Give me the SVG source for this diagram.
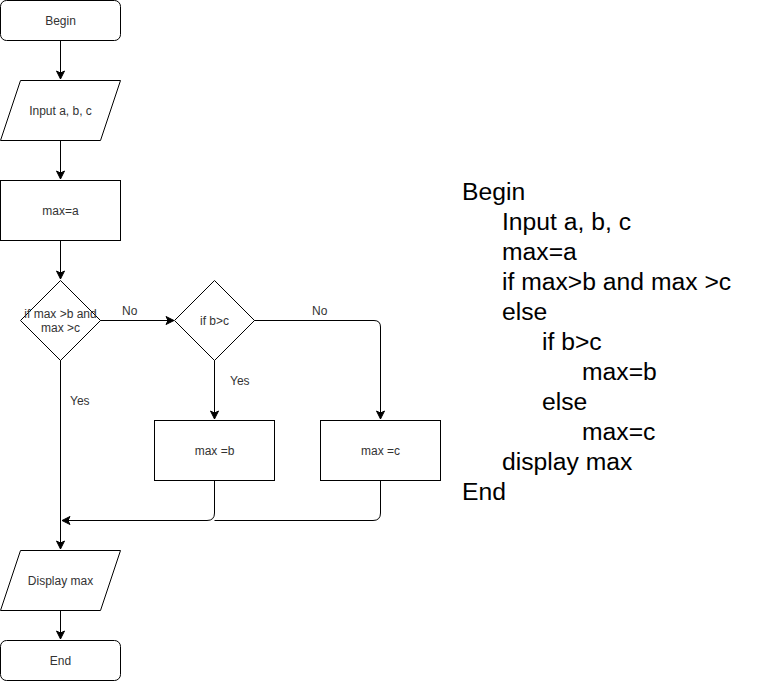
<svg xmlns="http://www.w3.org/2000/svg" width="781" height="681" viewBox="0 0 781 681">
<defs>
<marker id="arr" markerWidth="10" markerHeight="10" refX="9" refY="5" orient="auto" markerUnits="userSpaceOnUse">
<path d="M1,1 L9,5 L1,9 L3,5 Z" fill="#000" stroke="#000" stroke-width="1"/>
</marker>
</defs>
<style>
.shape{fill:#fff;stroke:#000;stroke-width:1}
.t{font-family:"Liberation Sans",Arial,sans-serif;font-size:12px;fill:#333;text-anchor:middle}
.lbl{font-family:"Liberation Sans",Arial,sans-serif;font-size:12px;fill:#333}
.c{fill:none;stroke:#000;stroke-width:1}
.code{font-family:"Liberation Sans",Arial,sans-serif;font-size:24.7px;fill:#000}
</style>
<rect width="781" height="681" fill="#fff"/>
<g id="connectors">
<path class="c" d="M60.5,40 V79" marker-end="url(#arr)"/>
<path class="c" d="M60.5,140 V179" marker-end="url(#arr)"/>
<path class="c" d="M60.5,240 V279" marker-end="url(#arr)"/>
<path class="c" d="M100,320.5 H174" marker-end="url(#arr)"/>
<path class="c" d="M254,320.5 H374 Q380.5,320.5 380.5,327 V419" marker-end="url(#arr)"/>
<path class="c" d="M214.5,360 V419" marker-end="url(#arr)"/>
<path class="c" d="M60.5,360 V549" marker-end="url(#arr)"/>
<path class="c" d="M214.5,480 V513 Q214.5,520.5 207,520.5 H62" marker-end="url(#arr)"/>
<path class="c" d="M380.5,480 V513 Q380.5,520.5 373,520.5 H214.5"/>
<path class="c" d="M60.5,610 V639" marker-end="url(#arr)"/>
<text class="lbl" x="122" y="315">No</text>
<text class="lbl" x="312" y="315">No</text>
<text class="lbl" x="230" y="385">Yes</text>
<text class="lbl" x="70" y="405">Yes</text>
</g>
<g id="begin">
<rect class="shape" x="0.5" y="0.5" width="120" height="40" rx="6"/>
<text class="t" x="60.5" y="25">Begin</text>
</g>
<g id="input">
<polygon class="shape" points="20.5,80.5 120.5,80.5 100.5,140.5 0.5,140.5"/>
<text class="t" x="60.5" y="115">Input a, b, c</text>
</g>
<g id="maxa">
<rect class="shape" x="0.5" y="180.5" width="120" height="60"/>
<text class="t" x="60.5" y="215">max=a</text>
</g>
<g id="cond1">
<polygon class="shape" points="60.5,280.5 100.5,320.5 60.5,360.5 20.5,320.5"/>
<text class="t" x="60.5" y="318">if max &gt;b and</text>
<text class="t" x="60.5" y="332">max &gt;c</text>
</g>
<g id="cond2">
<polygon class="shape" points="214.5,280.5 254.5,320.5 214.5,360.5 174.5,320.5"/>
<text class="t" x="214.5" y="325">if b&gt;c</text>
</g>
<g id="maxb">
<rect class="shape" x="154.5" y="420.5" width="120" height="60"/>
<text class="t" x="214.5" y="455">max =b</text>
</g>
<g id="maxc">
<rect class="shape" x="320.5" y="420.5" width="120" height="60"/>
<text class="t" x="380.5" y="455">max =c</text>
</g>
<g id="display">
<polygon class="shape" points="20.5,550.5 120.5,550.5 100.5,610.5 0.5,610.5"/>
<text class="t" x="60.5" y="585">Display max</text>
</g>
<g id="end">
<rect class="shape" x="0.5" y="640.5" width="120" height="40" rx="6"/>
<text class="t" x="60.5" y="665">End</text>
</g>
<g id="pseudocode">
<text class="code" x="462" y="200">Begin</text>
<text class="code" x="502" y="230">Input a, b, c</text>
<text class="code" x="502" y="260">max=a</text>
<text class="code" x="502" y="290">if max&gt;b and max &gt;c</text>
<text class="code" x="502" y="320">else</text>
<text class="code" x="542" y="350">if b&gt;c</text>
<text class="code" x="582" y="380">max=b</text>
<text class="code" x="542" y="410">else</text>
<text class="code" x="582" y="440">max=c</text>
<text class="code" x="502" y="470">display max</text>
<text class="code" x="462" y="500">End</text>
</g>
</svg>
